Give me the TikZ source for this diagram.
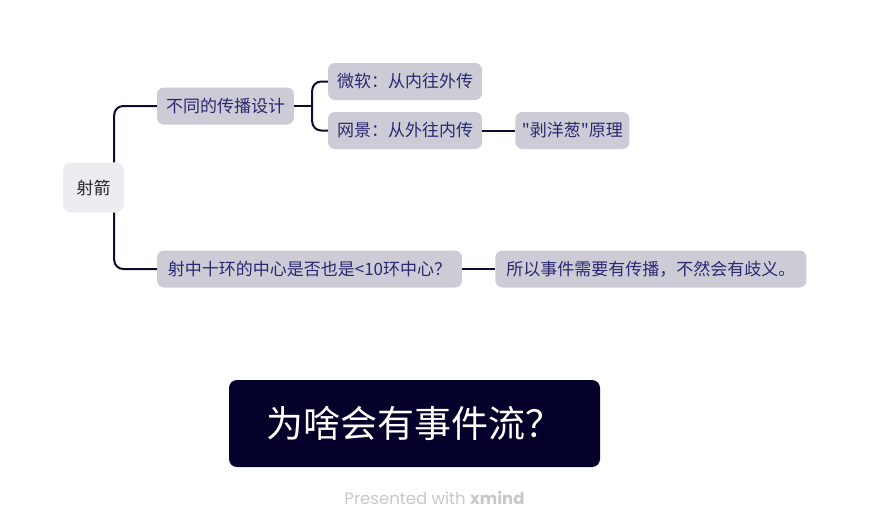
\documentclass[tikz,border=0pt]{standalone}
\usepackage{fontspec}
\setmainfont{Noto Sans CJK SC}[Ligatures=TeXOff]
\newfontfamily\footfont{Poppins}
\usepackage{tikz}
\usetikzlibrary{positioning}

\definecolor{linkc}{HTML}{0E0C2C}
\definecolor{boxfill}{HTML}{CDCCD6}
\definecolor{rootfill}{HTML}{EDECF0}
\definecolor{topictext}{HTML}{2A2870}
\definecolor{titlefill}{HTML}{03012A}
\definecolor{footc}{HTML}{C8C8C8}

\tikzset{
  topic/.style={fill=boxfill, text=topictext, rounded corners=7pt, minimum height=37pt,
    inner sep=0pt, font=\fontsize{17}{20}\selectfont},
  link/.style={draw=linkc, line width=2pt, rounded corners=9pt}
}

\begin{document}
\begin{tikzpicture}[x=1pt, y=-1pt]
      \useasboundingbox (0,0) rectangle (870,530);

      \node (root)[fill=rootfill, text=black!85, rounded corners=8pt, minimum width=61pt,
        minimum height=50pt, inner sep=0pt, font=\fontsize{17}{20}\selectfont] at (93.5,187.5) {射箭};
      \node (design)[topic, minimum width=137pt] at (225.5,106) {不同的传播设计};
      \node (ms)[topic, minimum width=154pt] at (405,81.5) {微软：从内往外传};
      \node (ns)[topic, minimum width=154pt] at (405,130.5) {网景：从外往内传};
      \node (onion)[topic, minimum width=114pt, right=33pt of ns] {"剥洋葱"原理};
      \node (hit)[topic, minimum width=305pt] at (309.5,269) {射中十环的中心是否也是<10环中心？};
      \node (sothat)[topic, minimum width=311pt, right=33pt of hit] {所以事件需要有传播，不然会有歧义。};

      \coordinate (fork) at ([xshift=18pt]design.east);

      \draw[link] ([xshift=-10pt]root.north east) |- (design.west);
      \draw[link] ([xshift=-10pt]root.south east) |- (hit.west);
      \draw[link] (design.east) -- (fork);
      \draw[link] (fork) |- (ms.west);
      \draw[link] (fork) |- (ns.west);
      \draw[link] (ns.east) -- (onion.west);
      \draw[link] (hit.east) -- (sothat.west);

      \node (title)[fill=titlefill, text=white, rounded corners=8pt, minimum width=371pt,
        minimum height=87pt, inner sep=0pt, font=\fontsize{37}{40}\selectfont] at (414.5,423.5) {为啥会有事件流？};
      \node (foot)[text=footc, font=\footfont\fontsize{16.5}{19}\selectfont] at (434.5,498) {Presented with \textbf{xmind}};

    \end{tikzpicture}
\end{document}
